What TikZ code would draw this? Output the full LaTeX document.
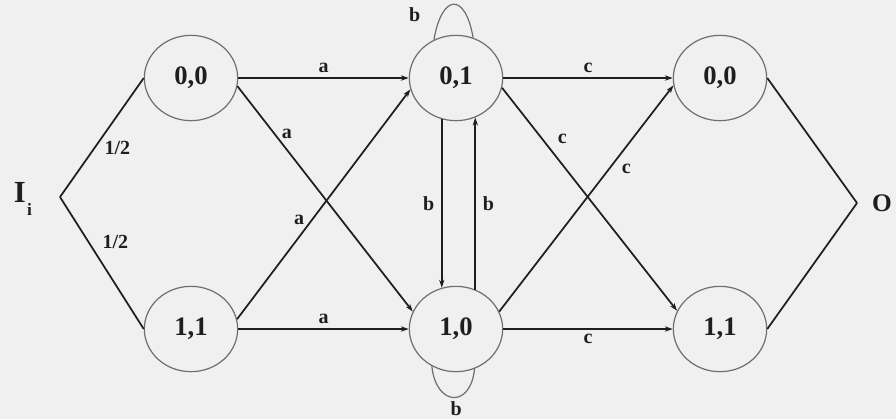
\documentclass[tikz,border=0pt]{standalone}
\usepackage{fontspec}
\setmainfont{Liberation Serif}
\usetikzlibrary{shapes.geometric, arrows.meta, positioning}
\definecolor{paper}{HTML}{F0F0F0}
\definecolor{ink}{HTML}{1E1E1E}
\definecolor{rim}{HTML}{6E6E6E}

\begin{document}
\begin{tikzpicture}[
    x=0.75pt, y=-0.75pt,
    state/.style={ellipse, draw=rim, line width=0.9pt, minimum width=70pt,
                  minimum height=64pt, inner sep=0pt, text=ink,
                  font=\fontsize{20}{24}\selectfont\bfseries},
    trans/.style={-{Stealth[length=6pt,width=4pt]}, draw=ink, line width=1.3pt},
    leg/.style={draw=ink, line width=1.3pt},
    selfloop/.style={draw=rim, line width=0.9pt},
    lbl/.style={font=\fontsize{15}{17}\selectfont\bfseries, text=ink, inner sep=2pt},
    term/.style={text=ink, inner sep=0pt},
]
    \fill[paper] (0,0) rectangle (896,419);
    \useasboundingbox (0,0) rectangle (896,419);

    % Column 1: first pair of states
    \node[state] (lzz) at (191,78) {0,0};
    \node[state] (loo) at (191,329) {1,1};

    % Column 2: middle pair
    \node[state] (mzo) at (456,78) {0,1};
    \node[state] (moz) at (456,329) {1,0};

    % Column 3: last pair
    \node[state] (rzz) at (720,78) {0,0};
    \node[state] (roo) at (720,329) {1,1};

    % Input and output
    \node[term, font=\fontsize{23}{26}\selectfont\bfseries] (inp) at (23,199)
        {I\kern1pt\raisebox{-10pt}{\fontsize{13}{13}\selectfont i}};
    \node[term, font=\fontsize{19}{22}\selectfont\bfseries] (outp) at (882,203) {O};
    \coordinate (ifork) at (60,197);
    \coordinate (ofork) at (857,203);

    % Input legs
    \draw[leg] (ifork) -- node[lbl, pos=0.41, right=5pt] {1/2} (lzz.west);
    \draw[leg] (ifork) -- node[lbl, pos=0.34, right=8pt] {1/2} (loo.west);

    % a transitions
    \draw[trans] (lzz) -- node[lbl, above=1pt] {a} (mzo);
    \draw[trans] (lzz.-10) -- node[lbl, pos=0.21, right=3pt] {a} (moz.158);
    \draw[trans] (loo.12) -- node[lbl, pos=0.43, left=3pt] {a} (mzo.194);
    \draw[trans] (loo) -- node[lbl, above=1pt] {a} (moz);

    % b transitions
    \draw[trans] (mzo.251) -- node[lbl, left=3pt] {b} (moz.109);
    \draw[trans] (moz.64) -- node[lbl, right=3pt] {b} (mzo.296);
    \draw[selfloop] (mzo.120) .. controls +(8,-46) and +(-8,-46) .. (mzo.67)
        node[lbl, pos=0.1, above left=2pt and 10pt] {b};
    \draw[selfloop] (moz.237) .. controls +(4,40) and +(-4,40) .. (moz.295)
        node[lbl, pos=0.55, below=1pt] {b};

    % c transitions
    \draw[trans] (mzo) -- node[lbl, above=1pt] {c} (rzz);
    \draw[trans] (mzo.-12) -- node[lbl, pos=0.23, right=9pt] {c} (roo.157);
    \draw[trans] (moz.22) -- node[lbl, pos=0.63, right=7pt] {c} (rzz.189);
    \draw[trans] (moz) -- node[lbl, below=1pt] {c} (roo);

    % Output legs
    \draw[leg] (rzz.east) -- (ofork);
    \draw[leg] (roo.east) -- (ofork);
\end{tikzpicture}
\end{document}
